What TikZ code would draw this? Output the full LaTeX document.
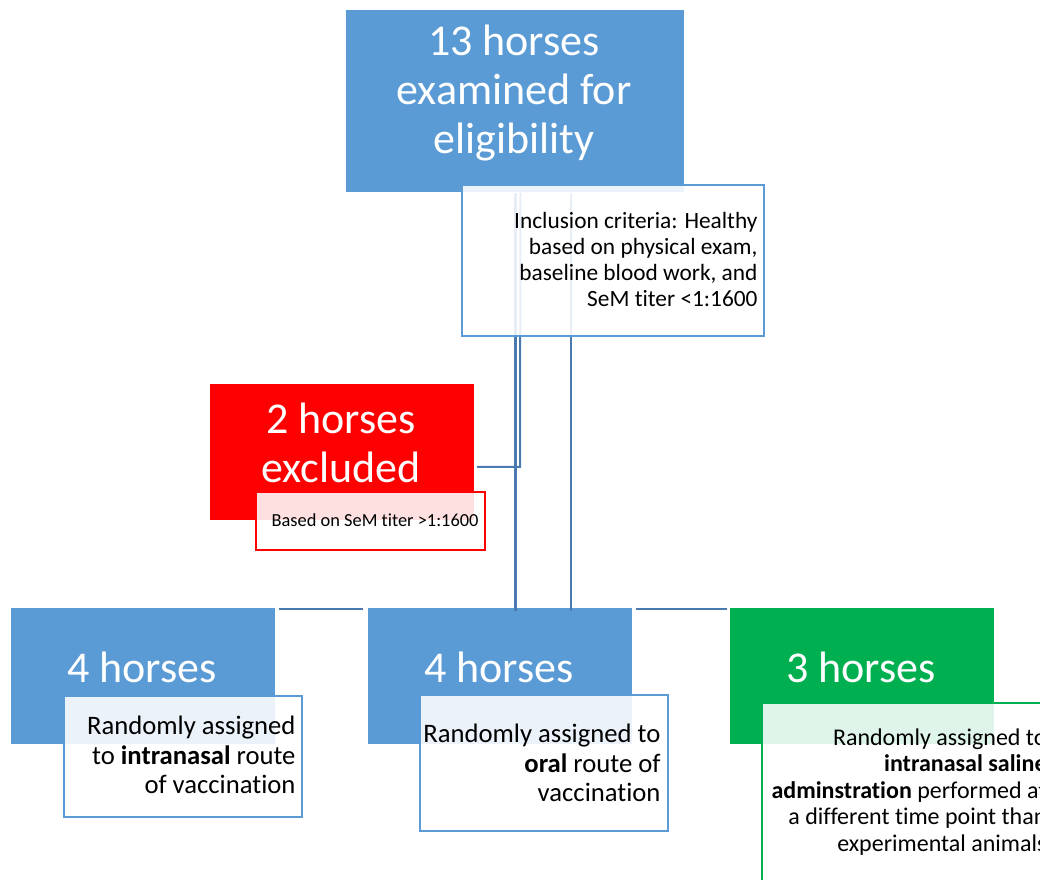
\documentclass[tikz,border=0pt]{standalone}
\usepackage{fontspec}
\setmainfont{Carlito}[Ligatures=NoCommon]
\definecolor{boxblue}{HTML}{5B9BD5}
\definecolor{linkblue}{HTML}{4A7AB0}
\definecolor{boxred}{HTML}{FF0000}
\definecolor{boxgreen}{HTML}{00B050}
\tikzset{every picture/.style={line width=0.75pt}}
\tikzset{
  bigbox/.style={draw=none, inner sep=0pt, anchor=north west},
  notebox/.style={fill=white, fill opacity=0.88, line width=1.5pt, inner sep=0pt, anchor=north west},
  bigtxt/.style={text=white, inner sep=0pt, align=center, font=\fontsize{33}{36.75}\selectfont},
  notetxt/.style={text=black, inner sep=0pt, align=right, anchor=east},
  conn/.style={draw=linkblue, line width=1.5pt}
}

\begin{document}
\begin{tikzpicture}[x=0.75pt,y=0.75pt,yscale=-1,xscale=1]
\useasboundingbox (0,0) rectangle (1040,880);
\clip (0,0) rectangle (1040,880);

%Shape: Rectangles
\node[bigbox, fill=boxblue, minimum width=253.5pt, minimum height=136.5pt] (top) at (345,10) {};
\node[bigbox, fill=boxred, minimum width=198pt, minimum height=102pt] (excl) at (209,384) {};
\node[bigbox, fill=boxblue, minimum width=198pt, minimum height=101.25pt] (left) at (10,608) {};
\node[bigbox, fill=boxblue, minimum width=198pt, minimum height=101.25pt] (mid) at (367,608) {};
\node[bigbox, fill=boxgreen, minimum width=198pt, minimum height=101.25pt] (grn) at (729,608) {};

%Straight Lines
\coordinate (ej) at (520,467);
\draw[conn, line width=2.25pt] ([xshift=0.75pt]top.south) -- ([xshift=0.75pt,yshift=2.25pt]top.south |- mid.north);
\draw[conn] ([xshift=4.5pt]top.south) -- (ej) -- ([xshift=2.25pt]ej -| excl.east);
\draw[conn] ([xshift=42pt]top.south) -- ([xshift=42pt,yshift=2.25pt]top.south |- mid.north);
\draw[conn, shorten <=3pt, shorten >=3pt] ([yshift=0.75pt]left.north east) -- ([yshift=0.75pt]mid.north west);
\draw[conn, shorten <=3pt, shorten >=1.5pt] ([yshift=0.75pt]mid.north east) -- ([yshift=0.75pt]grn.north west);

%Shape: Note boxes
\node[notebox, draw=boxblue, minimum width=226.5pt, minimum height=113.25pt] (incl) at (461,184) {};
\node[notebox, draw=boxred, minimum width=171.75pt, minimum height=43.5pt] (why) at (255,491) {};
\node[notebox, draw=boxblue, minimum width=178.5pt, minimum height=90.75pt] (inas) at (63,695) {};
\node[notebox, draw=boxblue, minimum width=186pt, minimum height=102pt] (oral) at (419,694) {};
\node[notebox, draw=boxgreen, minimum width=220.5pt, minimum height=150pt] (sal) at (761,702) {};

% Text Node
\node[bigtxt] (ttop) at (514,93) {13 horses\\examined for\\eligibility};
% Text Node
\node[bigtxt] (texcl) at (341,443) {2 horses\\excluded};
% Text Node
\node[bigtxt] (tleft) at (142,667) {4 horses};
% Text Node
\node[bigtxt] (tmid) at (499,667) {4 horses};
% Text Node
\node[bigtxt] (tgrn) at (861,667) {3 horses};
% Text Node
\node[notetxt, font=\fontsize{17.5}{19.5}\selectfont] (tincl) at (758,259) {Inclusion criteria: Healthy\\based on physical exam,\\baseline blood work, and\\SeM titer <1:1600};
% Text Node
\node[notetxt, font=\fontsize{13.8}{14}\selectfont] (twhy) at (479,520) {Based on SeM titer >1:1600};
% Text Node
\node[notetxt, font=\fontsize{20}{22}\selectfont] (tinas) at (296,755) {Randomly assigned\\to \textbf{intranasal} route\\of vaccination};
% Text Node
\node[notetxt, font=\fontsize{20}{22}\selectfont] (toral) at (661,763) {Randomly assigned to\\\textbf{oral} route of\\vaccination};
% Text Node
\node[notetxt, font=\fontsize{18}{19.9}\selectfont] (tsal) at (1047,792) {Randomly assigned to\\\textbf{intranasal saline}\\\textbf{adminstration} performed at\\a different time point than\\experimental animals};

\end{tikzpicture}
\end{document}
